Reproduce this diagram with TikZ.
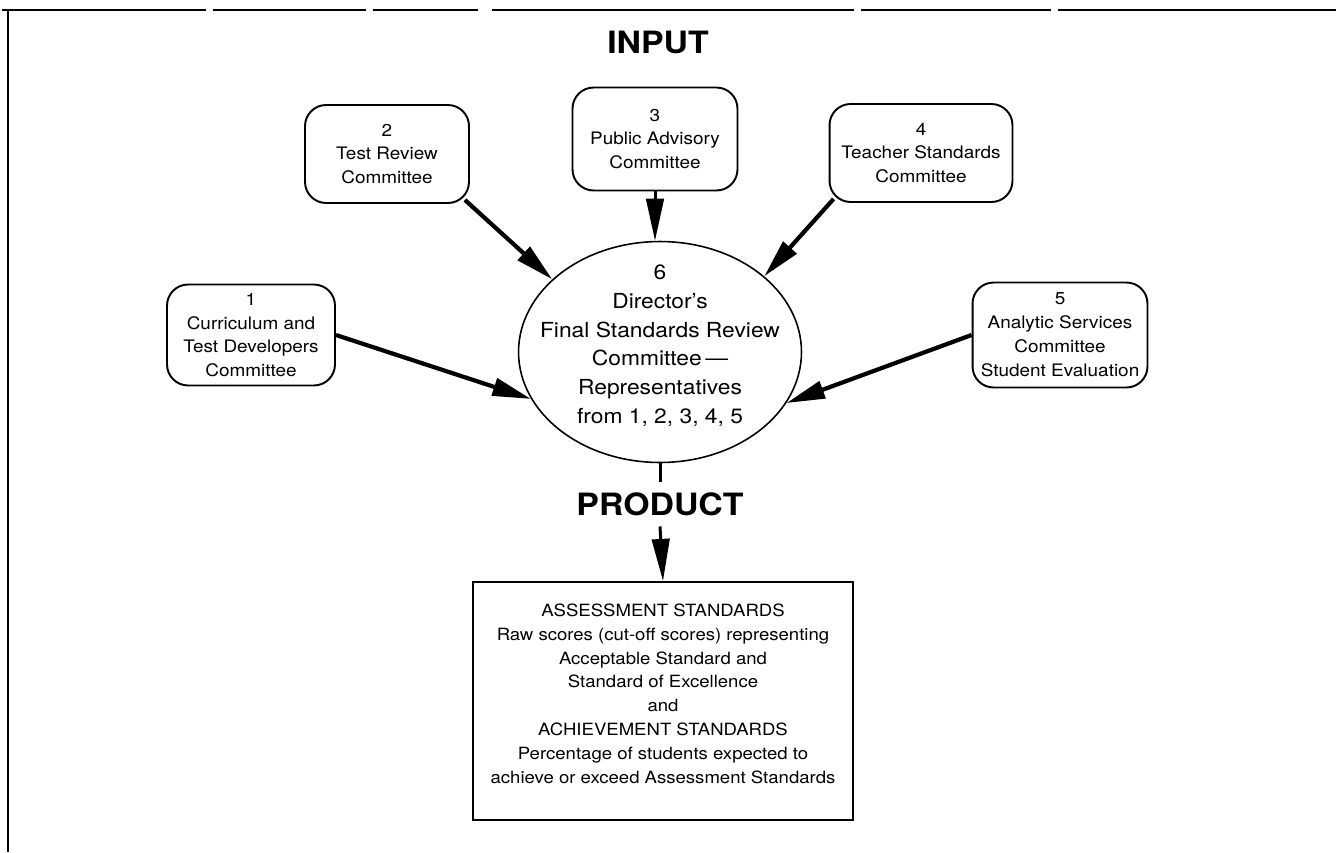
\documentclass[tikz,border=0pt]{standalone}
\usepackage{fontspec}
\setmainfont[FakeStretch=1.1]{TeX Gyre Heros}
\usetikzlibrary{shapes.geometric, arrows.meta}

\begin{document}
\begin{tikzpicture}[x=0.02cm, y=-0.02cm,
	comm/.style={draw, line width=1.1pt, rounded corners=12pt, align=center, inner sep=0pt,
		font=\fontsize{9.8pt}{13.6pt}\selectfont},
	flow/.style={line width=2.4pt, -{Triangle[length=22pt, width=10pt]}},
	drop/.style={line width=1.7pt, -{Triangle[length=24pt, width=10pt]}},
	head/.style={font=\fontsize{17.5pt}{20pt}\selectfont\bfseries}]
	\useasboundingbox (0,0) rectangle (1337,852);

	% frame
	\draw[line width=1.1pt] (8,852) -- (8,10);
	\draw[line width=1.1pt, dash pattern=on 116pt off 4pt on 87pt off 4pt on 60pt off 8pt on 206pt off 4pt on 108pt off 4pt on 158pt]
		(2,10) -- (1337,10);

	\node[head] (input) at (658,42) {INPUT};

	\node[comm, minimum width=3.36cm, minimum height=2.02cm] (c1) at (251,335) {1\\Curriculum and\\Test Developers\\Committee};
	\node[comm, minimum width=3.28cm, minimum height=1.96cm] (c2) at (387,154) {2\\Test Review\\Committee};
	\node[comm, minimum width=3.3cm, minimum height=2.06cm] (c3) at (655,139) {3\\Public Advisory\\Committee};
	\node[comm, minimum width=3.66cm, minimum height=1.96cm] (c4) at (921,153) {4\\Teacher Standards\\Committee};
	\node[comm, minimum width=3.5cm, minimum height=2.1cm] (c5) at (1060,335) {5\\Analytic Services\\Committee\\Student Evaluation};

	\node[ellipse, draw, line width=0.9pt, inner xsep=-0.45cm, inner ysep=-0.25cm, minimum width=5.66cm, minimum height=4.42cm,
		align=center, text depth=9pt, font=\fontsize{11.8pt}{16.4pt}\selectfont] (dir) at (660,352)
		{6\\Director's\\Final Standards Review\\Committee\,---\\Representatives\\from 1, 2, 3, 4, 5};

	\node[head, inner xsep=0pt, inner ysep=6pt] (plabel) at (660,504) {PRODUCT};

	\node[draw, line width=1.1pt, minimum width=7.6cm, minimum height=4.76cm, align=center, text depth=8.5pt,
		font=\fontsize{9.6pt}{13.6pt}\selectfont] (prod) at (663,701)
		{ASSESSMENT STANDARDS\\Raw scores (cut-off scores) representing\\Acceptable Standard and\\Standard of Excellence\\and\\ACHIEVEMENT STANDARDS\\Percentage of students expected to\\achieve or exceed Assessment Standards};

	\draw[flow] (c1.east) -- (dir.200);
	\draw[flow] ([shift={(-5,-4)}]c2.south east) -- (dir.146);
	\draw[drop] (c3.south) -- (c3.south |- dir.north);
	\draw[flow] ([shift={(5,-4)}]c4.south west) -- (dir.36);
	\draw[flow] (c5.west) -- (dir.338);

	\draw[line width=1.7pt] (dir.south) -- (plabel.north);
	\draw[drop] (plabel.south) -- (prod.north);
\end{tikzpicture}
\end{document}
